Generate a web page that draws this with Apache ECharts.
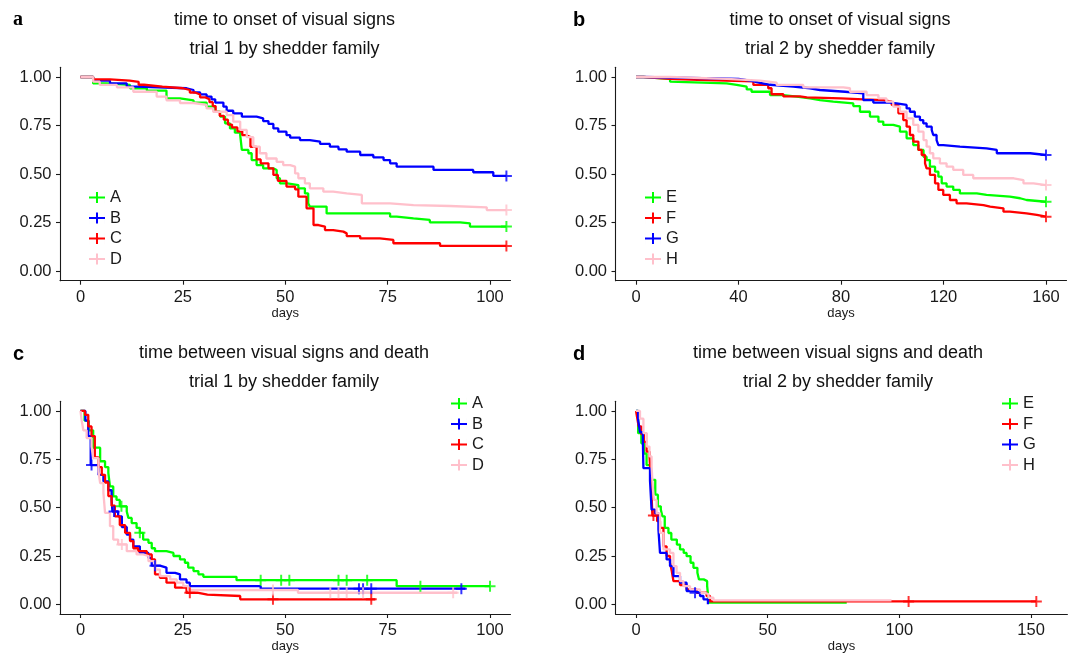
<!DOCTYPE html>
<html><head><meta charset="utf-8">
<script src="https://cdn.jsdelivr.net/npm/echarts@6/dist/echarts.min.js"></script>
<style>html,body{margin:0;padding:0;background:#fff}#c{width:1072px;height:654px}</style>
</head><body><div id="c"></div>
<script>
// ---------- DATA (Kaplan-Meier steps: [day, survival]) ----------
const onset1_A = [[0,1],[3.1,0.967],[6.4,0.959],[12.1,0.942],[16.2,0.93],[21,0.89],[24.3,0.88],[27.6,0.868],[30.8,0.847],[32.8,0.821],[34.1,0.796],[35.3,0.761],[36.5,0.735],[37.7,0.713],[39,0.70],[39.4,0.624],[41,0.607],[41.8,0.572],[43,0.546],[44.6,0.529],[47.1,0.521],[47.9,0.478],[48.7,0.452],[50.5,0.443],[53.2,0.426],[54.8,0.40],[55.6,0.349],[56,0.332],[60.1,0.297],[75.6,0.28],[77.2,0.271],[81.3,0.263],[85.3,0.251],[92.7,0.246],[95.1,0.229],[104,0.229]];
const onset1_B = [[0,1],[3.1,0.981],[7.2,0.967],[11.3,0.95],[13.7,0.942],[25.9,0.933],[27.6,0.921],[29.2,0.91],[30.8,0.899],[32,0.885],[32.9,0.868],[34.9,0.847],[35.7,0.826],[37.3,0.813],[39.4,0.796],[43,0.787],[44.6,0.773],[45.9,0.758],[47.1,0.735],[48.3,0.718],[50.3,0.70],[51.2,0.687],[53.6,0.675],[56,0.667],[58.5,0.655],[60.9,0.641],[63,0.627],[65,0.615],[68.3,0.598],[71.5,0.586],[74,0.572],[75.6,0.555],[77.2,0.538],[86.2,0.521],[95.9,0.509],[100.8,0.49],[104,0.49]];
const onset1_C = [[0,1],[3.1,0.988],[7.2,0.981],[12,0.975],[14.2,0.96],[15.5,0.95],[20,0.942],[25,0.933],[26.7,0.92],[28,0.91],[29.2,0.895],[30.5,0.885],[31.5,0.87],[32.3,0.85],[33,0.82],[34,0.80],[35,0.78],[36,0.755],[37,0.74],[38.3,0.72],[39.5,0.70],[40.5,0.69],[41.5,0.64],[43,0.575],[44,0.555],[45.9,0.529],[47.1,0.495],[48.2,0.465],[50.3,0.435],[52.4,0.421],[53.2,0.383],[55.2,0.323],[56.9,0.237],[58.1,0.229],[59.7,0.211],[61.7,0.203],[64.2,0.194],[65,0.18],[68.3,0.168],[73.1,0.16],[76.4,0.143],[87.8,0.129],[104,0.129]];
const onset1_D = [[0,1],[3.1,0.976],[4.7,0.959],[8.9,0.947],[12.9,0.924],[18.6,0.899],[21,0.88],[24.3,0.866],[27.6,0.856],[30.8,0.838],[32.4,0.821],[35.7,0.803],[37.3,0.77],[39,0.727],[40.6,0.69],[42.2,0.641],[43.8,0.607],[45.4,0.58],[47.9,0.563],[49.5,0.546],[51.2,0.538],[52.4,0.503],[53.2,0.478],[54.8,0.452],[56,0.426],[59.3,0.409],[61.7,0.40],[65,0.392],[68.7,0.349],[75.6,0.34],[81.3,0.335],[90.2,0.328],[99.2,0.314],[104,0.314]];
const onset1_censor = {A:[104], B:[104], C:[104], D:[104]};

const onset2_E = [[0,1],[2.9,0.99],[13.3,0.976],[13.9,0.967],[35.4,0.959],[39.3,0.95],[43.2,0.936],[45.1,0.924],[52.3,0.907],[57.5,0.899],[62.7,0.89],[67.9,0.881],[71.8,0.873],[77,0.864],[84.8,0.85],[87.4,0.821],[91.3,0.796],[94.6,0.77],[96.5,0.753],[100.4,0.744],[103,0.718],[105.6,0.684],[108.2,0.649],[110.2,0.624],[112.2,0.589],[113.4,0.572],[114.7,0.538],[116.7,0.512],[118,0.486],[119.3,0.452],[121.2,0.435],[123.8,0.418],[126.4,0.40],[133,0.392],[136.8,0.383],[145.9,0.375],[149.9,0.366],[152.4,0.357],[160,0.357]];
const onset2_F = [[0,1],[2.9,0.99],[13.3,0.985],[24,0.977],[45.8,0.959],[51.6,0.942],[52.9,0.911],[57.5,0.90],[64,0.895],[66.6,0.89],[80,0.885],[88.7,0.881],[96.5,0.873],[99.8,0.856],[102.4,0.813],[104.3,0.778],[105.6,0.744],[106.9,0.701],[108.2,0.667],[110.2,0.624],[111.5,0.598],[112.8,0.555],[113.4,0.529],[114.7,0.495],[116.7,0.452],[118,0.418],[119.9,0.392],[122.5,0.366],[125.1,0.349],[129,0.34],[135.6,0.332],[138.2,0.323],[143.4,0.306],[145.9,0.297],[152.4,0.289],[156.4,0.28],[160,0.28]];
const onset2_G = [[0,1],[2.9,0.99],[40,0.98],[45.1,0.97],[48.4,0.96],[52.3,0.95],[61.4,0.942],[67.9,0.933],[71.8,0.924],[81.6,0.916],[88.7,0.881],[92.6,0.868],[99.1,0.864],[101.7,0.856],[105.6,0.838],[106.9,0.821],[108.8,0.796],[110.8,0.778],[112.1,0.761],[113.4,0.744],[115.4,0.727],[116,0.701],[117.3,0.675],[118,0.649],[119.9,0.641],[126.4,0.632],[136.8,0.624],[140.8,0.607],[153.8,0.598],[160,0.598]];
const onset2_H = [[0,1],[13.3,0.99],[35.4,0.981],[48.4,0.971],[54.9,0.959],[65.3,0.947],[80.9,0.942],[83.5,0.924],[90,0.907],[94.6,0.89],[97.7,0.873],[100.4,0.847],[103,0.821],[105.6,0.787],[108.2,0.753],[110.2,0.718],[112.2,0.675],[113.4,0.641],[114.7,0.607],[116,0.581],[118.6,0.555],[121.2,0.538],[123.8,0.521],[127.7,0.495],[131.6,0.478],[147.4,0.469],[151.2,0.452],[155.1,0.443],[160,0.443]];
const onset2_censor = {E:[160], F:[160], G:[160], H:[160]};

const death1_A = [[0,1],[1,0.95],[2,0.9],[3.1,0.81],[4.8,0.74],[6,0.71],[6.8,0.68],[7.2,0.61],[8,0.558],[8.8,0.54],[9.6,0.507],[11.3,0.48],[11.7,0.447],[12.5,0.42],[13.7,0.395],[14.5,0.37],[15.3,0.335],[16.6,0.318],[17.4,0.29],[18.2,0.275],[21,0.266],[22.7,0.25],[24.3,0.232],[25.5,0.215],[26.3,0.19],[27.6,0.172],[28.8,0.155],[30,0.142],[38.1,0.125],[77.2,0.094],[100,0.094]];
const death1_B = [[0,1],[1.2,0.95],[1.9,0.87],[2.5,0.72],[4.4,0.67],[5.6,0.636],[6.8,0.59],[7.6,0.54],[7.8,0.48],[9.2,0.455],[10.1,0.40],[11.3,0.36],[12.1,0.335],[12.9,0.30],[14.5,0.266],[16.6,0.24],[17.4,0.20],[19.4,0.19],[21,0.163],[23.1,0.155],[24.3,0.129],[25.9,0.112],[26.7,0.094],[44,0.081],[94,0.081]];
const death1_C = [[0,1],[1.1,0.98],[1.9,0.92],[2.7,0.87],[3.5,0.76],[4.4,0.71],[5.2,0.67],[6,0.63],[6.8,0.56],[7.6,0.51],[8.4,0.455],[9.6,0.41],[10.9,0.37],[12.1,0.327],[12.9,0.29],[14.1,0.275],[16.2,0.258],[17.4,0.232],[18.2,0.155],[19.4,0.137],[21,0.112],[23.1,0.086],[25.9,0.06],[28.5,0.05],[31,0.043],[39,0.026],[72,0.026]];
const death1_D = [[0,1],[0.3,0.95],[0.7,0.9],[1.5,0.86],[2.7,0.816],[3.1,0.756],[4.4,0.687],[4.8,0.627],[5.6,0.576],[6,0.473],[7.2,0.404],[8,0.335],[9.2,0.31],[11.3,0.275],[13.7,0.258],[15.3,0.25],[16.6,0.223],[18.2,0.18],[19.4,0.146],[21.9,0.129],[23.5,0.112],[25.1,0.094],[26.3,0.074],[53.1,0.06],[92,0.06]];
const death1_censor = {A:[10,14.5,44,49,51,63,65,70,83,100], B:[2.7,8.2,18.2,68,69,71,93], C:[26.7,47,71], D:[10.1,47,61,63,65,69,91]};

const death2_E = [[0,1],[0.8,0.885],[2,0.833],[3,0.78],[4,0.72],[5.5,0.644],[7.3,0.567],[8.3,0.507],[9.4,0.49],[10,0.455],[10.9,0.395],[12.3,0.369],[13.4,0.335],[15.5,0.309],[16.7,0.284],[18.1,0.266],[19.2,0.249],[20.7,0.215],[21.8,0.189],[23.3,0.163],[23.9,0.129],[25.7,0.12],[27,0.095],[27.6,0.009],[80,0.009]];
const death2_F = [[0,1],[0.5,0.96],[1,0.92],[2,0.88],[3,0.84],[4,0.79],[5.1,0.77],[5.8,0.6],[6.2,0.459],[8,0.43],[9.1,0.395],[10.4,0.30],[11.6,0.25],[12.9,0.215],[13.6,0.17],[14.2,0.12],[16.7,0.10],[19.2,0.077],[23,0.06],[26.8,0.043],[28.1,0.015],[152,0.015]];
const death2_G = [[0,1],[0.8,0.954],[1.5,0.89],[2.6,0.84],[2.8,0.704],[5.3,0.64],[5.9,0.49],[7.2,0.47],[8.5,0.387],[9.1,0.266],[11.6,0.232],[12.9,0.198],[14.2,0.146],[16.7,0.112],[19.2,0.069],[21.8,0.06],[24.3,0.043],[25.6,0.026],[27.3,0]];
const death2_H = [[0,1],[1.5,0.96],[2.8,0.885],[4.1,0.816],[5.1,0.765],[5.9,0.713],[6.4,0.6],[6.8,0.54],[7.8,0.47],[9.1,0.37],[10.4,0.284],[12.9,0.266],[14.2,0.198],[15.4,0.163],[16.7,0.12],[18,0.094],[20.5,0.077],[24.3,0.06],[26.2,0.052],[27.5,0.034],[29.4,0.02],[97,0.02]];
const death2_censor = {E:[], F:[6.6,103.5,152], G:[22.4], H:[]};

const yTicks = [0, 0.25, 0.5, 0.75, 1];
const xTicks_trial1 = [0, 25, 50, 75, 100];
const xTicks_onset2 = [0, 40, 80, 120, 160];
const xTicks_death2 = [0, 50, 100, 150];
const titlesTop = ['time to onset of visual signs', 'time between visual signs and death'];
const titlesSub = ['trial 1 by shedder family', 'trial 2 by shedder family'];
const panelLetters = ['a', 'b', 'c', 'd'];

// ---------- STYLE / LAYOUT ----------
const FONT = "'Liberation Sans', Arial, Helvetica, sans-serif";
const GREEN = '#00FF00', BLUE = '#0000FF', RED = '#FF0000', PINK = '#FFC0CB';
const INK = '#1a1a1a';
const PLUS = 'path://M0,4.1 H10 V5.9 H0 Z M4.1,0 H5.9 V10 H4.1 Z';
const LEG_ICON = 'path://M0,4.9 H16 V7.1 H0 Z M7,0.5 H9 V11.5 H7 Z M0,0 H0.01 V12 H0 Z M16,0 H16.01 V12 H16 Z';

const panels = [
  { grid:{left:60, top:67.3, width:450.5, height:213.4}, xmin:-5, xmax:105, xticks:xTicks_trial1,
    names:['A','B','C','D'], curves:[onset1_A,onset1_B,onset1_C,onset1_D], censor:onset1_censor,
    colors:[GREEN,BLUE,RED,PINK], legend:{left:89, top:189}, title:{x:284.5, top:6}, letter:{left:13, top:10} },
  { grid:{left:615.5, top:67.3, width:451, height:213.4}, xmin:-8, xmax:168, xticks:xTicks_onset2,
    names:['E','F','G','H'], curves:[onset2_E,onset2_F,onset2_G,onset2_H], censor:onset2_censor,
    colors:[GREEN,RED,BLUE,PINK], legend:{left:645, top:189}, title:{x:840, top:6}, letter:{left:573, top:10} },
  { grid:{left:60, top:401.3, width:450.5, height:213.4}, xmin:-5, xmax:105, xticks:xTicks_trial1,
    names:['A','B','C','D'], curves:[death1_A,death1_B,death1_C,death1_D], censor:death1_censor,
    colors:[GREEN,BLUE,RED,PINK], legend:{left:451, top:395}, title:{x:284, top:339}, letter:{left:13, top:344} },
  { grid:{left:615.5, top:401.3, width:451.9, height:213.4}, xmin:-7.8, xmax:163.8, xticks:xTicks_death2,
    names:['E','F','G','H'], curves:[death2_E,death2_F,death2_G,death2_H], censor:death2_censor,
    colors:[GREEN,RED,BLUE,PINK], legend:{left:1002, top:395}, title:{x:838, top:339}, letter:{left:573, top:344} }
];

function stepAt(curve, d) {
  let s = curve[0][1];
  for (const p of curve) { if (p[0] <= d) s = p[1]; else break; }
  return s;
}

const grid = [], xAxis = [], yAxis = [], series = [], legend = [], title = [];
panels.forEach((p, i) => {
  grid.push(Object.assign({containLabel:false}, p.grid));
  xAxis.push({
    type:'value', gridIndex:i, min:p.xmin, max:p.xmax,
    axisLine:{show:true, onZero:false, lineStyle:{color:INK, width:1.1}},
    axisTick:{show:true, length:4, customValues:p.xticks, lineStyle:{color:INK, width:1.1}},
    axisLabel:{customValues:p.xticks, fontSize:16.5, color:INK, margin:8, fontFamily:FONT},
    splitLine:{show:false},
    name:'days', nameLocation:'middle', nameGap:26,
    nameTextStyle:{fontSize:13, color:INK, fontFamily:FONT}
  });
  yAxis.push({
    type:'value', gridIndex:i, min:-0.05, max:1.05,
    axisLine:{show:true, onZero:false, lineStyle:{color:INK, width:1.1}},
    axisTick:{show:true, length:4, customValues:yTicks, lineStyle:{color:INK, width:1.1}},
    axisLabel:{customValues:yTicks, fontSize:16.5, color:INK, margin:8.5, fontFamily:FONT,
               formatter:v => v.toFixed(2)},
    splitLine:{show:false}
  });
  p.names.forEach((n, k) => {
    series.push({
      type:'line', name:n, xAxisIndex:i, yAxisIndex:i, step:'end',
      data:p.curves[k], showSymbol:false, symbol:'none', animation:false,
      color:p.colors[k], lineStyle:{color:p.colors[k], width:2.3}, itemStyle:{color:p.colors[k]},
      emphasis:{disabled:true}, z:2
    });
  });
  p.names.forEach((n, k) => {
    const days = p.censor[n];
    if (!days.length) return;
    series.push({
      type:'scatter', name:n + ' censored', xAxisIndex:i, yAxisIndex:i,
      data:days.map(d => [d, stepAt(p.curves[k], d)]),
      symbol:PLUS, symbolSize:11, animation:false, silent:true,
      itemStyle:{color:p.colors[k]}, z:3
    });
  });
  legend.push({
    data:p.names, orient:'vertical', left:p.legend.left, top:p.legend.top, padding:0,
    itemWidth:16, itemHeight:12, itemGap:3.5, icon:LEG_ICON, selectedMode:false,
    itemStyle:{borderWidth:0},
    textStyle:{fontSize:16.5, lineHeight:16, color:INK, fontFamily:FONT, padding:[0,0,0,0]}
  });
  const row = Math.floor(i / 2);
  title.push({
    text: titlesTop[row] + '\n' + titlesSub[i % 2 === 0 ? 0 : 1],
    left:p.title.x, top:p.title.top, textAlign:'center', padding:0,
    textStyle:{fontSize:18, fontWeight:'normal', lineHeight:28.5, color:'#111', fontFamily:FONT}
  });
  title.push({
    text: panelLetters[i], left:p.letter.left, top:p.letter.top, padding:0,
    textStyle:{fontSize:20, fontWeight:'bold', color:'#000',
               fontFamily: i === 0 ? "'Liberation Serif', 'DejaVu Serif', serif" : FONT}
  });
});

const chart = echarts.init(document.getElementById('c'), null, {renderer:'canvas', width:1072, height:654});
chart.setOption({ backgroundColor:'#fff', animation:false, title, grid, xAxis, yAxis, series, legend, tooltip:{show:false} });
</script>
</body></html>
